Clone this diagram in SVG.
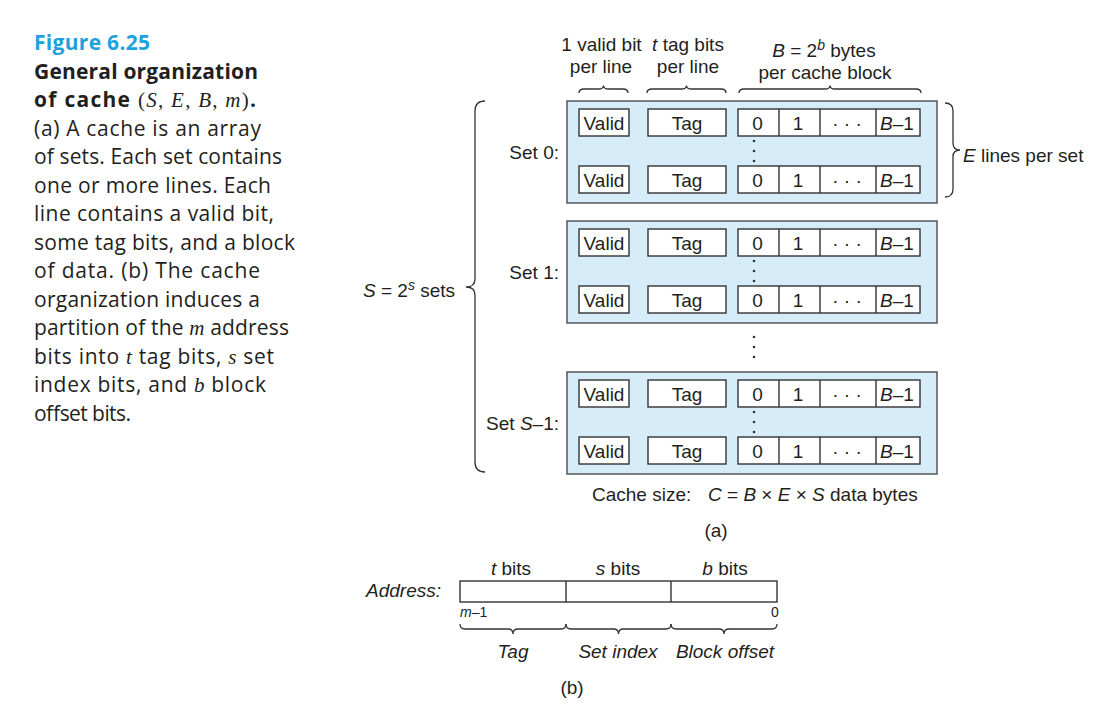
<svg xmlns="http://www.w3.org/2000/svg" width="1120" height="704" viewBox="0 0 1120 704">
<style>
.cap{font-family:"Open Sans","Noto Sans",sans-serif;font-size:21px;fill:#231f20}
.capb{font-weight:bold}
.m{font-family:"Liberation Serif",serif;font-style:italic}
.r{font-family:"Liberation Serif",serif}
.t{font-family:"Liberation Sans",Arial,sans-serif;font-size:19px;fill:#231f20}
.sm{font-size:14px}
.i{font-style:italic}
.set{fill:#d6ecf9;stroke:#555;stroke-width:1.5}
.cell{fill:#fff;stroke:#333;stroke-width:1.4}
.br{fill:none;stroke:#333;stroke-width:1.3}
.dot{fill:#333}
</style>
<defs>
<g id="row">
<rect class="cell" x="579" y="0" width="50" height="27"/>
<rect class="cell" x="648" y="0" width="78" height="27"/>
<rect class="cell" x="738" y="0" width="182" height="27"/>
<line class="cell" x1="779" y1="0" x2="779" y2="27"/>
<line class="cell" x1="820" y1="0" x2="820" y2="27"/>
<line class="cell" x1="876" y1="0" x2="876" y2="27"/>
<text class="t" x="604" y="21" text-anchor="middle">Valid</text>
<text class="t" x="687" y="21" text-anchor="middle">Tag</text>
<text class="t" x="757.5" y="21" text-anchor="middle">0</text>
<text class="t" x="798" y="21" text-anchor="middle">1</text>
<text class="t" x="847" y="21" text-anchor="middle">· · ·</text>
<text class="t" x="897" y="21" text-anchor="middle"><tspan class="i">B</tspan>–1</text>
</g>
<g id="vd">
<circle class="dot" cx="754" cy="0" r="1.3"/>
<circle class="dot" cx="754" cy="10" r="1.3"/>
<circle class="dot" cx="754" cy="20" r="1.3"/>
</g>
</defs>

<g id="caption">
<text class="cap capb" x="34" y="50" style="fill:#1ea2dd" textLength="116">Figure 6.25</text>
<text class="cap capb" x="34" y="79" textLength="224">General organization</text>
<text class="cap" x="34" y="107" textLength="222"><tspan class="capb">of cache </tspan><tspan class="r">(</tspan><tspan class="m">S</tspan><tspan class="r">, </tspan><tspan class="m">E</tspan><tspan class="r">, </tspan><tspan class="m">B</tspan><tspan class="r">, </tspan><tspan class="m">m</tspan><tspan class="r">)</tspan><tspan class="capb">.</tspan></text>
<text class="cap" x="34" y="136" textLength="227">(a) A cache is an array</text>
<text class="cap" x="34" y="164" textLength="248">of sets. Each set contains</text>
<text class="cap" x="34" y="193" textLength="237">one or more lines. Each</text>
<text class="cap" x="34" y="221" textLength="240">line contains a valid bit,</text>
<text class="cap" x="34" y="250" textLength="261">some tag bits, and a block</text>
<text class="cap" x="34" y="278" textLength="226">of data. (b) The cache</text>
<text class="cap" x="34" y="307" textLength="226">organization induces a</text>
<text class="cap" x="34" y="335" textLength="255">partition of the <tspan class="m">m</tspan> address</text>
<text class="cap" x="34" y="364" textLength="240">bits into <tspan class="m">t</tspan> tag bits, <tspan class="m">s</tspan> set</text>
<text class="cap" x="34" y="392" textLength="232">index bits, and <tspan class="m">b</tspan> block</text>
<text class="cap" x="34" y="421" textLength="97">offset bits.</text>
</g>

<g id="headers">
<text class="t" x="601.5" y="51" text-anchor="middle">1 valid bit</text>
<text class="t" x="601" y="73" text-anchor="middle">per line</text>
<text class="t" x="688" y="51" text-anchor="middle"><tspan class="i">t</tspan> tag bits</text>
<text class="t" x="688" y="73" text-anchor="middle">per line</text>
<text class="t" x="824" y="57" text-anchor="middle"><tspan class="i">B</tspan> = 2<tspan class="i sm" dy="-7">b</tspan><tspan dy="7"> bytes</tspan></text>
<text class="t" x="825" y="79" text-anchor="middle">per cache block</text>
</g>

<g id="set0">
<rect class="set" x="567" y="101" width="370" height="102"/>
<use href="#row" y="109"/>
<use href="#row" y="166"/>
<use href="#vd" y="141"/>
<text class="t" x="559" y="159" text-anchor="end">Set 0:</text>
</g>
<g id="set1">
<rect class="set" x="567" y="221" width="370" height="102"/>
<use href="#row" y="229"/>
<use href="#row" y="286"/>
<use href="#vd" y="261"/>
<text class="t" x="559" y="279" text-anchor="end">Set 1:</text>
</g>
<g id="setS1">
<rect class="set" x="567" y="372" width="370" height="102"/>
<use href="#row" y="380"/>
<use href="#row" y="437"/>
<use href="#vd" y="412"/>
<text class="t" x="559" y="430" text-anchor="end">Set <tspan class="i">S</tspan>–1:</text>
</g>
<use href="#vd" y="337"/>

<g id="braces">
<path class="br" d="M579,93 Q579,89 584,89 L598.5,89 Q603.5,89 603.5,85.5 Q603.5,89 608.5,89 L623,89 Q628,89 628,93"/>
<path class="br" d="M647,93 Q647,89 652,89 L681.5,89 Q686.5,89 686.5,85.5 Q686.5,89 691.5,89 L721,89 Q726,89 726,93"/>
<path class="br" d="M739,93 Q739,89 744,89 L825,89 Q830,89 830,85.5 Q830,89 835,89 L916,89 Q921,89 921,93"/>
<path class="br" d="M485,101 Q475,101 475,111 L475,279 Q475,287 466,287 Q475,287 475,295 L475,462 Q475,472 485,472"/>
<path class="br" d="M945,103 Q953,103 953,111 L953,143 Q953,150 960,150 Q953,150 953,157 L953,189 Q953,197 945,197"/>
</g>

<g id="labels">
<text class="t" x="455" y="297" text-anchor="end"><tspan class="i">S</tspan> = 2<tspan class="i sm" dy="-7">s</tspan><tspan dy="7"> sets</tspan></text>
<text class="t" x="963" y="162"><tspan class="i">E</tspan> lines per set</text>
<text class="t" x="592" y="501">Cache size:</text>
<text class="t" x="708" y="501"><tspan class="i">C</tspan> = <tspan class="i">B</tspan> × <tspan class="i">E</tspan> × <tspan class="i">S</tspan> data bytes</text>
<text class="t" x="716" y="537" text-anchor="middle">(a)</text>
</g>

<g id="address">
<rect class="cell" x="460" y="581" width="317" height="21"/>
<line class="cell" x1="566" y1="581" x2="566" y2="602"/>
<line class="cell" x1="671" y1="581" x2="671" y2="602"/>
<text class="t i" x="441" y="597" text-anchor="end">Address:</text>
<text class="t" x="511" y="575" text-anchor="middle"><tspan class="i">t</tspan> bits</text>
<text class="t" x="618" y="575" text-anchor="middle"><tspan class="i">s</tspan> bits</text>
<text class="t" x="725" y="575" text-anchor="middle"><tspan class="i">b</tspan> bits</text>
<text class="t sm" x="460" y="617"><tspan class="i">m</tspan>–1</text>
<text class="t sm" x="775" y="617" text-anchor="middle">0</text>
<path class="br" d="M460,624 Q460,629 465,629 L508,629 Q513,629 513,634 Q513,629 518,629 L561,629 Q566,629 566,624"/>
<path class="br" d="M566,624 Q566,629 571,629 L613.5,629 Q618.5,629 618.5,634 Q618.5,629 623.5,629 L666,629 Q671,629 671,624"/>
<path class="br" d="M671,624 Q671,629 676,629 L719,629 Q724,629 724,634 Q724,629 729,629 L772,629 Q777,629 777,624"/>
<text class="t i" x="513" y="658" text-anchor="middle">Tag</text>
<text class="t i" x="618" y="658" text-anchor="middle">Set index</text>
<text class="t i" x="725" y="658" text-anchor="middle">Block offset</text>
<text class="t" x="572" y="694" text-anchor="middle">(b)</text>
</g>
</svg>
